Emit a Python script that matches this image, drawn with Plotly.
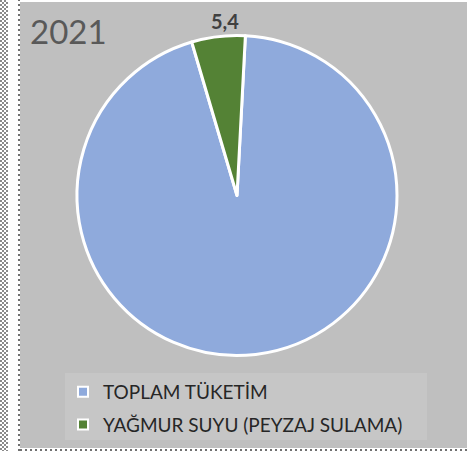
import plotly.graph_objects as go

labels = ["TOPLAM TÜKETİM", "YAĞMUR SUYU (PEYZAJ SULAMA)"]
values = [94.6, 5.4]
value_label = "5,4"
colors = ["#8faadc", "#548235"]
title_text = "2021"

W, H = 467, 451
fig = go.Figure()
fig.add_trace(go.Pie(
    labels=labels, values=values, textinfo="none",
    marker=dict(colors=colors, line=dict(color="white", width=3)),
    sort=False, direction="clockwise", rotation=3,
    domain=dict(x=[(237-160)/W, (237+160)/W], y=[(H-356)/H, (H-35)/H]),
    showlegend=False, hoverinfo="label+value",
))
# legend entries
for i, (lab, col) in enumerate(zip(labels, colors)):
    fig.add_trace(go.Scatter(
        x=[None], y=[None], mode="markers", name=lab, legendgroup=f"g{i}",
        marker=dict(symbol="square", size=10, color=col, line=dict(color="white", width=2)),
    ))

shapes = [
    dict(type="rect", xref="paper", yref="paper", x0=20/W, x1=1, y0=3/H, y1=1-2/H,
         fillcolor="#bfbfbf", line=dict(width=0), layer="below"),
    dict(type="line", xref="paper", yref="paper", x0=19/W, x1=19/W, y0=0, y1=1,
         line=dict(color="#707070", width=2, dash="2px,3px"), layer="below"),
    dict(type="line", xref="paper", yref="paper", x0=20/W, x1=1, y0=1/H, y1=1/H,
         line=dict(color="#707070", width=2, dash="2px,3px"), layer="below"),
    # legend box
    dict(type="rect", xref="paper", yref="paper", x0=65/W, x1=427/W, y0=1-440/H, y1=1-373/H,
         fillcolor="#c6c6c6", line=dict(width=0), layer="below"),
]
# checker strip at far left
for k in range(4):
    off = 2 if k % 2 else 0
    shapes.append(dict(type="line", xref="paper", yref="paper",
                       x0=(1 + 2*k)/W, x1=(1 + 2*k)/W, y0=1 + off/H, y1=-0.05,
                       line=dict(color="#8a8a8a", width=2, dash="2px,2px"), layer="below"))

fig.update_layout(
    width=W, height=H, margin=dict(l=0, r=0, t=0, b=0),
    paper_bgcolor="white", plot_bgcolor="rgba(0,0,0,0)",
    xaxis=dict(visible=False), yaxis=dict(visible=False),
    shapes=shapes,
    annotations=[
        dict(text=title_text, xref="paper", yref="paper", x=28/W, y=1-9/H,
             xanchor="left", yanchor="top", showarrow=False,
             font=dict(family="Lato", size=33, color="#595959")),
        dict(text=value_label, xref="paper", yref="paper", x=225/W, y=1-21/H,
             xanchor="center", yanchor="middle", showarrow=False,
             font=dict(family="Lato", size=20, color="#404040", weight="bold")),
    ],
    legend=dict(x=63/W, y=1-373/H, xanchor="left", yanchor="top",
                bgcolor="rgba(0,0,0,0)", font=dict(family="Lato", size=19, color="#262626"),
                tracegroupgap=5, itemwidth=30),
)
fig.write_html("out.html", config={"displayModeBar": False},
               post_script="document.body.style.margin='0px';")
